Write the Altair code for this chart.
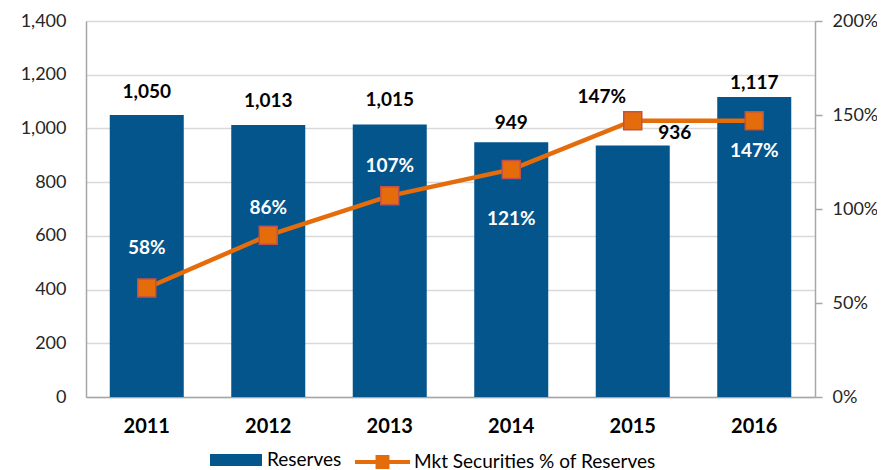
import altair as alt
import pandas as pd

# ---- data ----
years = ["2011", "2012", "2013", "2014", "2015", "2016"]
reserves = [1050, 1013, 1015, 949, 936, 1117]
mkt_pct = [0.58, 0.86, 1.07, 1.21, 1.47, 1.47]
left_ticks = [0, 200, 400, 600, 800, 1000, 1200, 1400]
right_ticks = [0, 0.5, 1.0, 1.5, 2.0]

SER_BAR = "Reserves"
SER_LINE = "Mkt Securities % of Reserves"

df = pd.DataFrame({"year": years, "reserves": reserves, "pct": mkt_pct})

FONT = "Lato"
BLUE = "#03558B"
ORANGE = "#E46C0A"
MARKER_STROKE = "#C0504D"
GRID = "#D9D9D9"
DOMAIN = "#A6A6A6"

W, H = 729, 376
L_PER_PX = 1400 / H
R_PER_PX = 2.0 / H

# label offsets (pixels) relative to bar top / line point, like the manual Excel placement
bar_off = "({'2011':23.5,'2012':23.5,'2013':24,'2014':19,'2015':13,'2016':14})[datum.year]"
pct_off = "({'2011':-40,'2012':-27,'2013':-30,'2014':49,'2015':-24,'2016':30})[datum.year]"

base = alt.Chart(df).transform_calculate(
    s=f"'{SER_BAR}'",
    m=f"'{SER_LINE}'",
    barLab=f"datum.reserves + {bar_off} * {L_PER_PX}",
    pctLab=f"datum.pct - {pct_off} * {R_PER_PX}",
).encode(
    x=alt.X(
        "year:N",
        title=None,
        scale=alt.Scale(paddingInner=0.39, paddingOuter=0.195),
        axis=alt.Axis(
            labelFontSize=20, labelFontWeight="bold", labelColor="black",
            labelPadding=19, ticks=False, domainColor=DOMAIN, domainWidth=1.5,
            labelAngle=0, labelFont=FONT,
        ),
    )
)

left_axis = alt.Axis(
    values=left_ticks, labelExpr="format(datum.value, ',')", labelFontSize=18,
    labelPadding=20, ticks=False, grid=True, gridColor=GRID, gridWidth=1.5,
    domainColor=DOMAIN, domainWidth=1.5, labelColor="#262626", labelFont=FONT,
)
left_scale = alt.Scale(domain=[0, 1400], nice=False)

bars = base.mark_bar(width=74).encode(
    y=alt.Y("reserves:Q", title=None, scale=left_scale, axis=left_axis),
    fill=alt.Fill(
        "s:N",
        scale=alt.Scale(domain=[SER_BAR], range=[BLUE]),
        legend=alt.Legend(
            title=None, orient="none", legendX=124, legendY=413,
            symbolType="M-1,-0.23H1V0.23H-1Z", symbolSize=2704,
            symbolStrokeWidth=0, labelFontSize=19, labelFont=FONT,
            labelColor="black", labelOffset=5, labelLimit=500,
        ),
    ),
)

bar_text = base.mark_text(
    fontSize=19, fontWeight="bold", color="black", baseline="middle", font=FONT
).encode(
    y=alt.Y("barLab:Q", title=None, scale=left_scale, axis=left_axis),
    text=alt.Text("reserves:Q", format=","),
).transform_filter("datum.year != '2015'")

bar_text_2015 = base.mark_text(
    fontSize=19, fontWeight="bold", color="black", baseline="middle", font=FONT, dx=42
).encode(
    y=alt.Y("barLab:Q", title=None, scale=left_scale, axis=left_axis),
    text=alt.Text("reserves:Q", format=","),
).transform_filter("datum.year == '2015'")

left = alt.layer(bars, bar_text, bar_text_2015)

right_axis = alt.Axis(
    orient="right", values=right_ticks, format=".0%", labelFontSize=18,
    labelPadding=10, ticks=True, tickSize=7, tickColor=DOMAIN, tickWidth=1.5,
    grid=False, domainColor=DOMAIN, domainWidth=1.5, labelColor="#262626",
    labelFont=FONT,
)
right_scale = alt.Scale(domain=[0, 2], nice=False)

line = base.mark_line(strokeWidth=4.5).encode(
    y=alt.Y("pct:Q", title=None, scale=right_scale, axis=right_axis),
    stroke=alt.Stroke(
        "m:N",
        scale=alt.Scale(domain=[SER_LINE], range=[ORANGE]),
        legend=alt.Legend(
            title=None, orient="none", legendX=267, legendY=411.5,
            symbolType="M-1,0H1M-0.18,-0.18H0.18V0.18H-0.18Z", symbolSize=3025,
            symbolStrokeWidth=4, symbolFillColor=ORANGE,
            labelFontSize=19, labelFont=FONT, labelColor="black", labelOffset=2,
            labelLimit=500,
        ),
    ),
)

points = base.mark_square(
    size=324, fill=ORANGE, stroke=MARKER_STROKE, strokeWidth=1.5, opacity=1
).encode(y=alt.Y("pct:Q", title=None, scale=right_scale, axis=right_axis))

pct_text = base.mark_text(
    fontSize=19, fontWeight="bold", color="white", baseline="middle", font=FONT
).encode(
    y=alt.Y("pctLab:Q", title=None, scale=right_scale, axis=right_axis),
    text=alt.Text("pct:Q", format=".0%"),
).transform_filter("datum.year != '2015'")

pct_text_2015 = base.mark_text(
    fontSize=19, fontWeight="bold", color="black", baseline="middle", font=FONT, dx=-31
).encode(
    y=alt.Y("pctLab:Q", title=None, scale=right_scale, axis=right_axis),
    text=alt.Text("pct:Q", format=".0%"),
).transform_filter("datum.year == '2015'")

right = alt.layer(line, points, pct_text, pct_text_2015)

chart = alt.layer(left, right).resolve_scale(y="independent").properties(
    width=W, height=H,
    autosize=alt.AutoSizeParams(type="none"),
    padding={"left": 78, "top": 13, "right": 62, "bottom": 72},
).configure_view(stroke=None).configure(font=FONT)

chart.save("out.html", embed_options={"renderer": "svg", "actions": False})
